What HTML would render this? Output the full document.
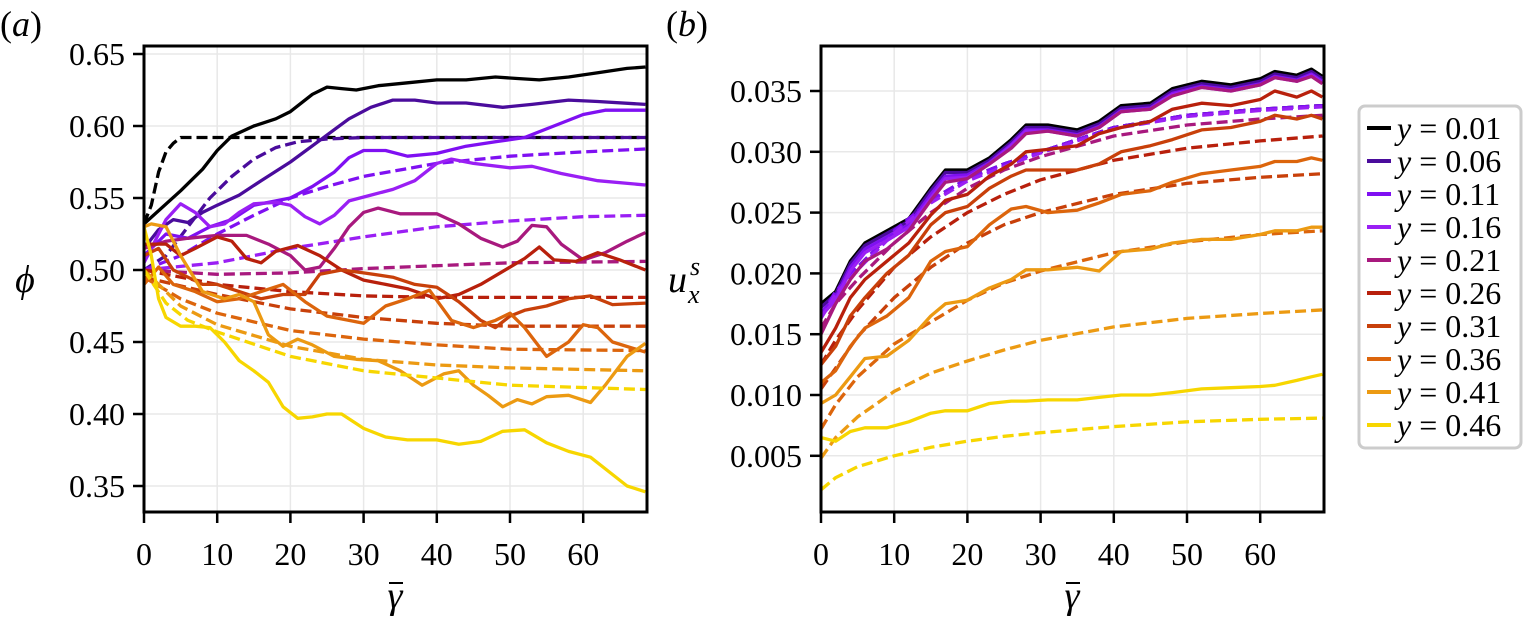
<!DOCTYPE html>
<html><head><meta charset="utf-8"><style>
html,body{margin:0;padding:0;background:#fff;}
svg{display:block;}
svg text{font-family:"Liberation Serif","DejaVu Serif",serif;}
</style></head><body>
<svg id="chart" width="1524" height="622" viewBox="0 0 1524 622" xmlns="http://www.w3.org/2000/svg" font-family="Liberation Serif, DejaVu Serif, serif">
<g id="pa"></g>
<g id="pb"></g>
<g id="leg"></g>
</svg>
<script>
// ---- shared ----
const seriesLabels = ["0.01","0.06","0.11","0.16","0.21","0.26","0.31","0.36","0.41","0.46"];
const seriesColors = ["#000000","#4a0c9c","#7f10f2","#9a1ff4","#a8197e","#b8200c","#c8400a","#dc650c","#ec9a12","#f7d600"];
const xTicks = [0,10,20,30,40,50,60];
// ---- panel a ----
const aYTicks = [0.35,0.40,0.45,0.50,0.55,0.60,0.65];
const aYTickLabels = ["0.35","0.40","0.45","0.50","0.55","0.60","0.65"];
const aSolidG = [
 [0,5,8,10,12,15,18,20,23,25,27,29,32,36,40,44,48,51,54,58,62,66,68.5],
 [0,2,4,6,8,10,13,16,20,24,28,31,34,37,40,44,49,53,58,62,68.5],
 [0,3,6,9,12,15,18,20,23,26,28,30,33,36,40,44,48,52,56,60,63,68.5],
 [0,2,3,5,7,9,11,13,15,18,20,22,24,26,28,31,34,37,40,42,45,50,53,57,62,68.5],
 [0,3,6,10,14,17,20,22,24,26,28,30,32,35,40,43,46,49,51,53,55,57,60,63,66,68.5],
 [0,3,5,7,10,12,14,16,18,21,24,27,30,33,36,40,43,46,49,52,54,56,59,62,65,68.5],
 [0,2,4,6,8,10,13,16,19,22,24,27,30,34,37,40,43,46,48,50,52,55,58,61,64,68.5],
 [0,2,4,7,10,13,16,19,22,25,28,30,33,36,39,42,45,48,50,52,55,58,60,62,64,68.5],
 [0,1,3,5,8,11,13,15,17,19,21,23,26,29,32,35,38,41,43,45,47,49,51,53,55,58,61,63,66,68.5],
 [0,1,2,3,5,7,9,11,13,15,17,19,21,23,25,27,30,33,36,40,43,46,49,52,55,58,61,64,66,68.5]
];
const aSolidV = [
 [0.532,0.555,0.570,0.583,0.593,0.600,0.605,0.610,0.622,0.627,0.626,0.625,0.628,0.630,0.632,0.632,0.634,0.633,0.632,0.634,0.637,0.640,0.641],
 [0.515,0.528,0.535,0.533,0.540,0.545,0.552,0.562,0.575,0.590,0.605,0.613,0.618,0.618,0.616,0.616,0.613,0.615,0.618,0.617,0.615],
 [0.510,0.525,0.522,0.530,0.535,0.545,0.548,0.550,0.558,0.568,0.578,0.583,0.583,0.579,0.581,0.586,0.589,0.592,0.600,0.608,0.611,0.611],
 [0.505,0.525,0.535,0.546,0.540,0.530,0.532,0.540,0.546,0.547,0.545,0.537,0.532,0.538,0.548,0.552,0.556,0.562,0.574,0.577,0.574,0.571,0.572,0.567,0.562,0.559],
 [0.515,0.520,0.522,0.524,0.524,0.518,0.510,0.500,0.502,0.515,0.530,0.540,0.543,0.539,0.539,0.532,0.522,0.516,0.520,0.531,0.530,0.518,0.507,0.512,0.520,0.526],
 [0.518,0.518,0.510,0.515,0.523,0.520,0.508,0.505,0.513,0.517,0.510,0.500,0.493,0.490,0.487,0.480,0.483,0.490,0.499,0.508,0.516,0.507,0.506,0.512,0.507,0.500],
 [0.510,0.515,0.500,0.495,0.490,0.490,0.485,0.480,0.483,0.483,0.497,0.500,0.498,0.495,0.490,0.488,0.478,0.465,0.460,0.468,0.472,0.475,0.480,0.482,0.476,0.477],
 [0.490,0.502,0.490,0.485,0.478,0.480,0.485,0.490,0.478,0.468,0.465,0.463,0.475,0.480,0.486,0.465,0.460,0.465,0.470,0.460,0.440,0.450,0.462,0.460,0.450,0.443],
 [0.530,0.532,0.530,0.510,0.485,0.480,0.483,0.478,0.455,0.447,0.452,0.448,0.440,0.438,0.437,0.430,0.420,0.428,0.430,0.420,0.413,0.405,0.410,0.407,0.412,0.413,0.408,0.420,0.440,0.449],
 [0.530,0.510,0.480,0.467,0.461,0.461,0.460,0.450,0.437,0.430,0.422,0.405,0.397,0.398,0.400,0.400,0.390,0.384,0.382,0.382,0.379,0.381,0.388,0.389,0.380,0.374,0.370,0.358,0.350,0.346]
];
const aDashG = [
 [0,1,2,3,4,5,10,20,30,40,50,60,68.5],
 [0,3,6,9,12,15,18,21,25,30,40,50,68.5],
 [0,5,10,15,20,25,30,40,50,60,68.5],
 [0,10,20,30,40,50,60,68.5],
 [0,10,20,30,40,50,68.5],
 [0,10,20,30,40,68.5],
 [0,10,20,30,40,50,68.5],
 [0,5,10,20,30,40,50,68.5],
 [0,5,10,20,30,40,50,68.5],
 [0,3,6,10,20,30,40,50,68.5]
];
const aDashV = [
 [0.532,0.545,0.568,0.582,0.588,0.592,0.592,0.592,0.592,0.592,0.592,0.592,0.592],
 [0.500,0.510,0.530,0.550,0.565,0.577,0.585,0.589,0.591,0.592,0.592,0.592,0.592],
 [0.500,0.510,0.525,0.538,0.550,0.558,0.565,0.574,0.579,0.582,0.584],
 [0.500,0.505,0.515,0.523,0.530,0.534,0.537,0.538],
 [0.500,0.497,0.498,0.501,0.503,0.505,0.506],
 [0.500,0.490,0.485,0.482,0.481,0.481],
 [0.495,0.483,0.473,0.467,0.463,0.461,0.461],
 [0.495,0.480,0.470,0.458,0.452,0.448,0.445,0.444],
 [0.500,0.475,0.462,0.447,0.438,0.434,0.432,0.430],
 [0.500,0.477,0.465,0.457,0.440,0.430,0.425,0.420,0.417]
];
// ---- panel b ----
const bYTicks = [0.005,0.010,0.015,0.020,0.025,0.030,0.035];
const bYTickLabels = ["0.005","0.010","0.015","0.020","0.025","0.030","0.035"];
const bSolidG = [0,2,4,6,9,12,15,17,20,23,26,28,31,35,38,41,45,48,52,56,60,62,65,67,68.5];
const bSolidV = [
 [0.0175,0.0185,0.0210,0.0225,0.0235,0.0245,0.0270,0.0285,0.0285,0.0295,0.0310,0.0322,0.0322,0.0318,0.0325,0.0338,0.0340,0.0352,0.0358,0.0355,0.0360,0.0366,0.0363,0.0368,0.0362],
 [0.0172,0.0183,0.0208,0.0223,0.0233,0.0243,0.0268,0.0283,0.0283,0.0293,0.0308,0.0320,0.0320,0.0316,0.0323,0.0336,0.0338,0.0350,0.0356,0.0353,0.0358,0.0364,0.0361,0.0366,0.0360],
 [0.0168,0.0180,0.0205,0.0220,0.0230,0.0240,0.0265,0.0280,0.0281,0.0291,0.0306,0.0318,0.0318,0.0314,0.0321,0.0334,0.0336,0.0348,0.0354,0.0351,0.0356,0.0362,0.0359,0.0364,0.0358],
 [0.0165,0.0178,0.0202,0.0217,0.0227,0.0238,0.0262,0.0278,0.0279,0.0290,0.0305,0.0317,0.0317,0.0313,0.0320,0.0333,0.0335,0.0347,0.0353,0.0350,0.0355,0.0361,0.0358,0.0363,0.0357],
 [0.0150,0.0175,0.0195,0.0210,0.0220,0.0235,0.0260,0.0275,0.0278,0.0290,0.0303,0.0315,0.0317,0.0313,0.0320,0.0333,0.0335,0.0346,0.0353,0.0350,0.0355,0.0361,0.0358,0.0362,0.0356],
 [0.0135,0.0155,0.0180,0.0195,0.0210,0.0225,0.0248,0.0260,0.0265,0.0280,0.0290,0.0300,0.0302,0.0305,0.0315,0.0320,0.0325,0.0335,0.0340,0.0338,0.0343,0.0350,0.0345,0.0350,0.0345],
 [0.0125,0.0140,0.0165,0.0180,0.0200,0.0215,0.0240,0.0250,0.0255,0.0270,0.0280,0.0285,0.0285,0.0285,0.0290,0.0300,0.0305,0.0310,0.0318,0.0320,0.0325,0.0330,0.0327,0.0330,0.0327],
 [0.0110,0.0120,0.0140,0.0155,0.0165,0.0180,0.0210,0.0218,0.0222,0.0240,0.0253,0.0255,0.0250,0.0252,0.0258,0.0265,0.0268,0.0275,0.0282,0.0285,0.0288,0.0292,0.0292,0.0295,0.0293],
 [0.0093,0.0100,0.0115,0.0130,0.0132,0.0145,0.0165,0.0175,0.0178,0.0188,0.0195,0.0203,0.0203,0.0205,0.0202,0.0218,0.0220,0.0225,0.0228,0.0228,0.0232,0.0235,0.0235,0.0238,0.0238],
 [0.0065,0.0062,0.0070,0.0073,0.0073,0.0078,0.0085,0.0087,0.0087,0.0093,0.0095,0.0095,0.0096,0.0096,0.0098,0.0100,0.0100,0.0102,0.0105,0.0106,0.0107,0.0108,0.0112,0.0115,0.0117]
];
const bDashG = [0,2,5,10,15,20,25,30,40,50,60,68.5];
const bDashV = [
 [0.0165,0.0185,0.0205,0.0235,0.0260,0.0278,0.0290,0.0300,0.0320,0.0330,0.0335,0.0338],
 [0.0165,0.0185,0.0205,0.0235,0.0260,0.0278,0.0290,0.0300,0.0320,0.0330,0.0335,0.0338],
 [0.0165,0.0185,0.0205,0.0235,0.0260,0.0278,0.0290,0.0300,0.0320,0.0330,0.0335,0.0338],
 [0.0163,0.0183,0.0203,0.0233,0.0258,0.0276,0.0288,0.0299,0.0319,0.0329,0.0334,0.0337],
 [0.0155,0.0175,0.0195,0.0225,0.0250,0.0270,0.0285,0.0296,0.0313,0.0322,0.0327,0.0330],
 [0.0125,0.0145,0.0170,0.0205,0.0230,0.0250,0.0265,0.0277,0.0293,0.0303,0.0309,0.0313],
 [0.0105,0.0122,0.0148,0.0180,0.0205,0.0225,0.0240,0.0250,0.0265,0.0274,0.0279,0.0282],
 [0.0072,0.0092,0.0115,0.0142,0.0160,0.0178,0.0192,0.0202,0.0217,0.0226,0.0232,0.0235],
 [0.0048,0.0065,0.0082,0.0103,0.0118,0.0128,0.0137,0.0145,0.0156,0.0163,0.0167,0.0170],
 [0.0022,0.0032,0.0041,0.0050,0.0057,0.0062,0.0066,0.0069,0.0074,0.0078,0.0080,0.0081]
];

const NS = "http://www.w3.org/2000/svg";
const FONT = "'Liberation Serif', 'DejaVu Serif', serif";
function mk(tag, attrs, parent){const e=document.createElementNS(NS,tag);for(const k in attrs)e.setAttribute(k,attrs[k]);if(tag==="text"){e.setAttribute("font-family",FONT);e.style.fontFamily=FONT;}parent.appendChild(e);return e;}

function makeAxes(g, cfg){
  const {L,R,T,B,xs,ys,yTicks,yLabels,clipId} = cfg;
  const defs = mk("defs",{},g);
  const cp = mk("clipPath",{id:clipId},defs);
  mk("rect",{x:L,y:T,width:R-L,height:B-T},cp);
  xTicks.forEach(t=>{const l=mk("line",{x1:xs(t),x2:xs(t),y1:T,y2:B,stroke:"#e8e8e8","stroke-width":1.5},g);
    
    });
  yTicks.forEach(t=>{const l=mk("line",{x1:L,x2:R,y1:ys(t),y2:ys(t),stroke:"#e8e8e8","stroke-width":1.5},g);
    
    });
  xTicks.forEach(t=>{mk("line",{x1:xs(t),x2:xs(t),y1:B,y2:B+11,stroke:"#000","stroke-width":2.5},g);
    const tx=mk("text",{x:xs(t),y:565,"font-size":32,"text-anchor":"middle",fill:"#000"},g);tx.textContent=t;
    
    });
  yTicks.forEach((t,i)=>{mk("line",{x1:L-11,x2:L,y1:ys(t),y2:ys(t),stroke:"#000","stroke-width":2.5},g);
    const tx=mk("text",{x:L-19,y:ys(t)+11,"font-size":32,"text-anchor":"end",fill:"#000"},g);tx.textContent=yLabels[i];
    
    });
  return cp;
}
function drawSeries(g, xs, ys, gArr, vArr, color, dashed, clipId, name){
  const pts = gArr.map((x,i)=>xs(x).toFixed(1)+","+ys(vArr[i]).toFixed(1)).join(" ");
  const p = mk("polyline",{points:pts,fill:"none",stroke:color,"stroke-width":3.3,"stroke-linejoin":"round","clip-path":"url(#"+clipId+")"},g);
  if(dashed) p.setAttribute("stroke-dasharray","11,5");
  
  
}
function frame(g,L,R,T,B){
  const r=mk("rect",{x:L,y:T,width:R-L,height:B-T,fill:"none",stroke:"#000","stroke-width":3},g);
  
  
}

(function(){
  const g=document.getElementById("pa");
  const L=144,R=647,T=46,B=512;
  const xs=v=>L+v*7.32, ys=v=>54+(0.65-v)/0.05*72;
  makeAxes(g,{L,R,T,B,xs,ys,yTicks:aYTicks,yLabels:aYTickLabels,clipId:"ca"});
  for(let i=0;i<10;i++){
    drawSeries(g,xs,ys,aSolidG[i],aSolidV[i],seriesColors[i],false,"ca","phi-sim-y"+seriesLabels[i]);
    drawSeries(g,xs,ys,aDashG[i],aDashV[i],seriesColors[i],true,"ca","phi-model-y"+seriesLabels[i]);
  }
  frame(g,L,R,T,B);
})();
(function(){
  const g=document.getElementById("pb");
  const L=821,R=1324,T=46,B=512;
  const xs=v=>L+v*7.32, ys=v=>91+(0.035-v)/0.005*60.8;
  makeAxes(g,{L,R,T,B,xs,ys,yTicks:bYTicks,yLabels:bYTickLabels,clipId:"cb"});
  for(let i=0;i<10;i++){
    drawSeries(g,xs,ys,bSolidG,bSolidV[i],seriesColors[i],false,"cb","ux-sim-y"+seriesLabels[i]);
    drawSeries(g,xs,ys,bDashG,bDashV[i],seriesColors[i],true,"cb","ux-model-y"+seriesLabels[i]);
  }
  frame(g,L,R,T,B);
})();
(function(){
  const g=document.getElementById("leg");
  const r=mk("rect",{x:1359,y:106,width:162,height:342,rx:6,fill:"#fff",stroke:"#cccccc","stroke-width":3},g);
  
  
  for(let i=0;i<10;i++){
    const cy=128+i*33;
    const l=mk("line",{x1:1367,x2:1391,y1:cy,y2:cy,stroke:seriesColors[i],"stroke-width":4},g);
    
    
    const t=mk("text",{x:1397,y:cy+11,"font-size":32,fill:"#000"},g);
    t.innerHTML='<tspan font-style="italic">y</tspan> = '+seriesLabels[i];
    
    
  }
})();
(function(){
  const s=document.getElementById("chart");
  function t(x,y,size,html,name,anchor){const e=mk("text",{x:x,y:y,"font-size":size},s);if(anchor)e.setAttribute("text-anchor",anchor);e.innerHTML=html;
    
    
    return e;}
  t(0,36,36,'(<tspan font-style="italic">a</tspan>)','panel-a-label');
  t(666,36,36,'(<tspan font-style="italic">b</tspan>)','panel-b-label');
  t(25,292,38,'<tspan font-style="italic">ϕ</tspan>','y-axis-title-a','middle');
  t(668,292,38,'<tspan font-style="italic">u</tspan>','y-axis-title-b');
  t(688,303,26,'<tspan font-style="italic">x</tspan>','y-axis-title-b-sub');
  t(690,275,26,'<tspan font-style="italic">s</tspan>','y-axis-title-b-sup');
  t(395,608,38,'<tspan font-style="italic">γ</tspan>','x-axis-title-a','middle');
  t(1072,608,38,'<tspan font-style="italic">γ</tspan>','x-axis-title-b','middle');
  [[389,403],[1066,1080]].forEach(function(p){const l=mk("line",{x1:p[0],x2:p[1],y1:583,y2:583,stroke:"#000","stroke-width":2},s);
    
    });
})();
</script>
</body></html>
